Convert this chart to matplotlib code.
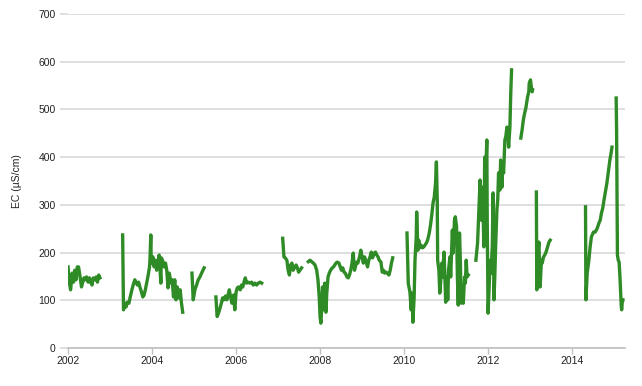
import numpy as np
import matplotlib
matplotlib.use("Agg")
import matplotlib.pyplot as plt

plt.rcParams['font.family'] = ['Liberation Sans', 'DejaVu Sans']

# EC record, one pair of lists per continuous logging period (decimal years)
seg1_year = [2002.00, 2002.03, 2002.06, 2002.10, 2002.13, 2002.16, 2002.19, 2002.22, 2002.25, 2002.29,
             2002.32, 2002.35, 2002.38, 2002.41, 2002.44, 2002.48, 2002.51, 2002.54, 2002.57, 2002.60,
             2002.64, 2002.67, 2002.70, 2002.73, 2002.76]
seg1_ec = [170, 138, 122, 157, 138, 163, 143, 170, 170, 147, 128, 138, 147, 143, 149, 138, 147, 138,
           132, 147, 143, 149, 138, 153, 147]

seg2_year = [2003.30, 2003.32, 2003.35, 2003.38, 2003.41, 2003.45, 2003.48, 2003.52, 2003.55, 2003.59,
             2003.62, 2003.65, 2003.68, 2003.71, 2003.75, 2003.78, 2003.81, 2003.84, 2003.87, 2003.90,
             2003.94, 2003.95, 2003.97, 2003.98, 2004.02, 2004.05, 2004.08, 2004.11, 2004.14, 2004.17,
             2004.21, 2004.22, 2004.25, 2004.29, 2004.32, 2004.35, 2004.38, 2004.41, 2004.45, 2004.48,
             2004.51, 2004.54, 2004.57, 2004.60, 2004.64, 2004.67, 2004.70, 2004.73]
seg2_ec = [237, 80, 94, 86, 96, 94, 107, 122, 132, 143, 138, 132, 138, 128, 117, 107, 111, 122, 136, 149,
           170, 184, 237, 178, 191, 170, 184, 163, 180, 195, 136, 189, 184, 170, 178, 163, 126, 157, 136, 143,
           107, 143, 101, 128, 105, 122, 94, 75]

seg3_year = [2004.95, 2004.98, 2005.02, 2005.06, 2005.10, 2005.14, 2005.18, 2005.24]
seg3_ec = [157, 101, 122, 132, 143, 149, 157, 168]

seg4_year = [2005.52, 2005.55, 2005.59, 2005.62, 2005.65, 2005.68, 2005.71, 2005.75, 2005.78, 2005.81,
             2005.84, 2005.87, 2005.90, 2005.94, 2005.97, 2006.00, 2006.03, 2006.06, 2006.10, 2006.13,
             2006.16, 2006.19, 2006.22, 2006.25, 2006.29, 2006.33, 2006.37, 2006.41, 2006.45, 2006.49,
             2006.53, 2006.57, 2006.61]
seg4_ec = [107, 66, 75, 84, 94, 105, 101, 109, 101, 111, 122, 107, 94, 111, 80, 117, 126, 128, 122, 132,
           128, 138, 147, 136, 138, 136, 138, 132, 136, 132, 136, 138, 136]

seg5_year = [2007.11, 2007.14, 2007.17, 2007.21, 2007.24, 2007.27, 2007.30, 2007.33, 2007.36, 2007.40,
             2007.43, 2007.46, 2007.49, 2007.52, 2007.56]
seg5_ec = [230, 191, 189, 184, 163, 153, 174, 178, 163, 170, 174, 168, 159, 163, 168]

seg6_year = [2007.72, 2007.76, 2007.80, 2007.84, 2007.88, 2007.92, 2007.95, 2007.98, 2008.00, 2008.02,
             2008.04, 2008.06, 2008.09, 2008.11, 2008.14, 2008.16, 2008.19, 2008.22, 2008.25, 2008.29,
             2008.32, 2008.35, 2008.38, 2008.41, 2008.45, 2008.48, 2008.51, 2008.54, 2008.57, 2008.60,
             2008.64, 2008.67, 2008.70, 2008.73, 2008.76, 2008.79, 2008.82, 2008.84, 2008.87, 2008.90,
             2008.94, 2008.97, 2009.00, 2009.03, 2009.06, 2009.10, 2009.13, 2009.16, 2009.19, 2009.22,
             2009.25, 2009.29, 2009.32, 2009.35, 2009.38, 2009.41, 2009.45, 2009.48, 2009.51, 2009.54,
             2009.57, 2009.60, 2009.64, 2009.67, 2009.70, 2009.73]
seg6_ec = [181, 184, 181, 178, 174, 163, 143, 107, 66, 52, 86, 128, 80, 136, 75, 115, 149, 157, 163, 168,
           170, 174, 178, 180, 178, 170, 163, 168, 159, 157, 149, 147, 153, 163, 178, 199, 163, 170, 180, 178,
           191, 205, 191, 178, 191, 180, 170, 184, 191, 201, 189, 199, 201, 195, 191, 184, 180, 159, 163, 157,
           159, 157, 153, 163, 178, 189]

seg7_year = [2010.07, 2010.10, 2010.14, 2010.17, 2010.19, 2010.21, 2010.24, 2010.26, 2010.29, 2010.30,
             2010.33, 2010.35, 2010.37, 2010.40, 2010.44, 2010.47, 2010.50, 2010.53, 2010.56, 2010.60,
             2010.63, 2010.66, 2010.69, 2010.72, 2010.75, 2010.77, 2010.79, 2010.80, 2010.83, 2010.85,
             2010.87, 2010.90, 2010.92, 2010.95, 2010.97, 2010.99, 2011.02, 2011.04, 2011.06, 2011.09,
             2011.11, 2011.14, 2011.15, 2011.17, 2011.20, 2011.22, 2011.25, 2011.27, 2011.29, 2011.32,
             2011.34, 2011.36, 2011.39, 2011.41, 2011.44, 2011.46, 2011.48, 2011.50, 2011.53]
seg7_ec = [241, 136, 117, 80, 115, 54, 107, 184, 233, 285, 205, 226, 210, 216, 210, 212, 216, 220, 226, 241,
           258, 279, 304, 317, 346, 390, 310, 184, 163, 115, 136, 178, 149, 201, 157, 96, 149, 101, 163, 191,
           149, 220, 247, 199, 268, 275, 254, 149, 90, 241, 184, 94, 128, 94, 149, 136, 184, 149, 153]

seg8_year = [2011.71, 2011.75, 2011.78, 2011.81, 2011.84, 2011.87, 2011.90, 2011.92, 2011.95, 2011.97,
             2011.98, 2012.00, 2012.02, 2012.05, 2012.07, 2012.10, 2012.12, 2012.14, 2012.16, 2012.18,
             2012.21, 2012.23, 2012.25, 2012.28, 2012.30, 2012.33, 2012.35, 2012.37, 2012.40, 2012.42,
             2012.45, 2012.47, 2012.49, 2012.52, 2012.54, 2012.56]
seg8_ec = [184, 220, 289, 352, 268, 337, 212, 400, 379, 436, 268, 73, 115, 184, 157, 212, 325, 101, 149, 212,
           289, 310, 367, 331, 394, 337, 379, 367, 436, 442, 463, 451, 421, 463, 534, 583]

seg9_year = [2012.78, 2012.81, 2012.84, 2012.87, 2012.90, 2012.94, 2012.97, 2012.98, 2013.01, 2013.03,
             2013.05, 2013.06]
seg9_ec = [440, 457, 478, 492, 503, 526, 537, 555, 562, 547, 537, 541]

seg10_year = [2013.15, 2013.16, 2013.19, 2013.21, 2013.24, 2013.27, 2013.29, 2013.32, 2013.35, 2013.38,
              2013.41, 2013.45, 2013.48]
seg10_ec = [327, 122, 199, 222, 128, 184, 178, 191, 195, 201, 210, 222, 226]

seg11_year = [2014.32, 2014.33, 2014.36, 2014.40, 2014.43, 2014.46, 2014.51, 2014.55, 2014.60, 2014.64,
              2014.67, 2014.70, 2014.73, 2014.76, 2014.79, 2014.83, 2014.86, 2014.89, 2014.90, 2014.93,
              2014.95]
seg11_ec = [296, 101, 157, 184, 212, 233, 243, 243, 251, 262, 268, 283, 293, 310, 325, 346, 367, 388, 394,
            409, 421]

seg12_year = [2015.05, 2015.06, 2015.08, 2015.10, 2015.12, 2015.14, 2015.17, 2015.18, 2015.20, 2015.21]
seg12_ec = [524, 457, 195, 184, 180, 149, 90, 80, 101, 101]

year_ticks = [2002, 2004, 2006, 2008, 2010, 2012, 2014]
ec_ticks = [0, 100, 200, 300, 400, 500, 600, 700]

segments = [
    (seg1_year, seg1_ec), (seg2_year, seg2_ec), (seg3_year, seg3_ec), (seg4_year, seg4_ec),
    (seg5_year, seg5_ec), (seg6_year, seg6_ec), (seg7_year, seg7_ec), (seg8_year, seg8_ec),
    (seg9_year, seg9_ec), (seg10_year, seg10_ec), (seg11_year, seg11_ec), (seg12_year, seg12_ec),
]

# join the periods with NaN so gaps stay open
xs, ys = [], []
for yr, ec in segments:
    xs += list(yr) + [np.nan]
    ys += list(ec) + [np.nan]

fig = plt.figure(figsize=(6.42, 3.86), dpi=100)
ax = fig.add_axes([0.106, 0.0984, 0.8675, 0.8653])

ax.plot(xs, ys, color="#2e8b26", lw=2.4, solid_joinstyle="round")

ax.set_xlim(2002, 2015.26)
ax.set_ylim(0, 700)
ax.set_xticks(year_ticks)
ax.set_yticks(ec_ticks)
ax.grid(axis="y", color="#d9d9d9", lw=1.2)
ax.set_axisbelow(True)

for side in ["top", "right", "left"]:
    ax.spines[side].set_visible(False)
ax.spines["bottom"].set_color("#bfbfbf")
ax.spines["bottom"].set_linewidth(1.2)

ax.tick_params(axis="x", colors="#bfbfbf", length=4, width=1, labelcolor="#222222", labelsize=7.5, pad=2)
ax.tick_params(axis="y", colors="#d9d9d9", length=6, width=1.2, labelcolor="#222222", labelsize=7.5, pad=3)

ax.set_ylabel("EC (µS/cm)", fontsize=7.5, color="#222222", labelpad=12)

fig.savefig("out.png", dpi=100)
